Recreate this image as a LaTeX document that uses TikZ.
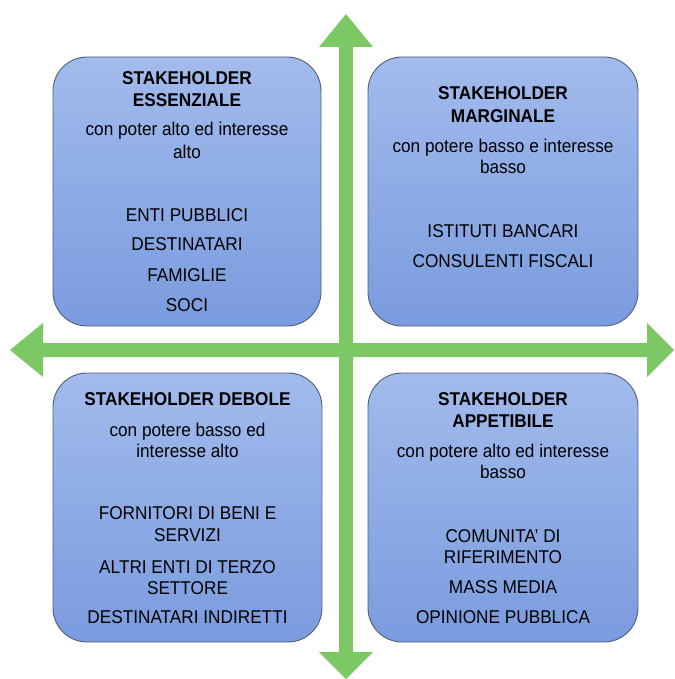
\documentclass[tikz,border=0pt]{standalone}
\usepackage{fontspec}
\setmainfont{Liberation Sans}[FakeStretch=0.93]
\definecolor{arrowgreen}{RGB}{124,200,100}
\definecolor{boxtop}{RGB}{162,187,236}
\definecolor{boxbot}{RGB}{122,155,222}
\definecolor{boxline}{RGB}{80,94,122}
\begin{document}
\begin{tikzpicture}[x=1pt,y=-1pt,
  quad/.style={draw=boxline,line width=0.9pt,rounded corners=34pt,top color=boxtop,bottom color=boxbot},
  arrowshape/.style={fill=arrowgreen,draw=none},
  txt/.style={font=\fontsize{18.5}{22}\selectfont,anchor=base,inner sep=0pt},
  ttl/.style={txt,font=\fontsize{18.5}{22}\selectfont\bfseries}]
\useasboundingbox (0,0) rectangle (674,679);
% vertical double arrow
\fill[arrowshape] (346,14) -- (373,47) -- (353,47) -- (353,652) -- (373,652) -- (346,679)
  -- (319,652) -- (339,652) -- (339,47) -- (319,47) -- cycle;
% horizontal double arrow
\fill[arrowshape] (10,350) -- (43,323) -- (43,343) -- (647,343) -- (647,323) -- (674,350)
  -- (647,377) -- (647,357) -- (43,357) -- (43,377) -- cycle;
% boxes
\path[quad] (53,57) rectangle (321,326);
\path[quad] (368,57) rectangle (638,326);
\path[quad] (53,373) rectangle (322,642);
\path[quad] (368,373) rectangle (638,642);
% box 1
\node[ttl] (a1) at (187,85) {STAKEHOLDER};
\node[ttl] (a2) at (187,107) {ESSENZIALE};
\node[txt] (a3) at (187,136) {con poter alto ed interesse};
\node[txt] (a4) at (187,158) {alto};
\node[txt] (a5) at (187,221) {ENTI PUBBLICI};
\node[txt] (a6) at (187,250) {DESTINATARI};
\node[txt] (a7) at (187,281) {FAMIGLIE};
\node[txt] (a8) at (187,311) {SOCI};
% box 2
\node[ttl] (b1) at (503,100) {STAKEHOLDER};
\node[ttl] (b2) at (503,123) {MARGINALE};
\node[txt] (b3) at (503,153) {con potere basso e interesse};
\node[txt] (b4) at (503,174) {basso};
\node[txt] (b5) at (503,237) {ISTITUTI BANCARI};
\node[txt] (b6) at (503,267) {CONSULENTI FISCALI};
% box 3
\node[ttl] (c1) at (187.5,405) {STAKEHOLDER DEBOLE};
\node[txt] (c2) at (187.5,436) {con potere basso ed};
\node[txt] (c3) at (187.5,457) {interesse alto};
\node[txt] (c4) at (187.5,519) {FORNITORI DI BENI E};
\node[txt] (c5) at (187.5,541) {SERVIZI};
\node[txt] (c6) at (187.5,573) {ALTRI ENTI DI TERZO};
\node[txt] (c7) at (187.5,594) {SETTORE};
\node[txt] (c8) at (187.5,623) {DESTINATARI INDIRETTI};
% box 4
\node[ttl] (d1) at (503,405) {STAKEHOLDER};
\node[ttl] (d2) at (503,427) {APPETIBILE};
\node[txt] (d3) at (503,457) {con potere alto ed interesse};
\node[txt] (d4) at (503,478) {basso};
\node[txt] (d5) at (503,542) {COMUNITA’ DI};
\node[txt] (d6) at (503,563) {RIFERIMENTO};
\node[txt] (d7) at (503,593) {MASS MEDIA};
\node[txt] (d8) at (503,623) {OPINIONE PUBBLICA};
\end{tikzpicture}
\end{document}
